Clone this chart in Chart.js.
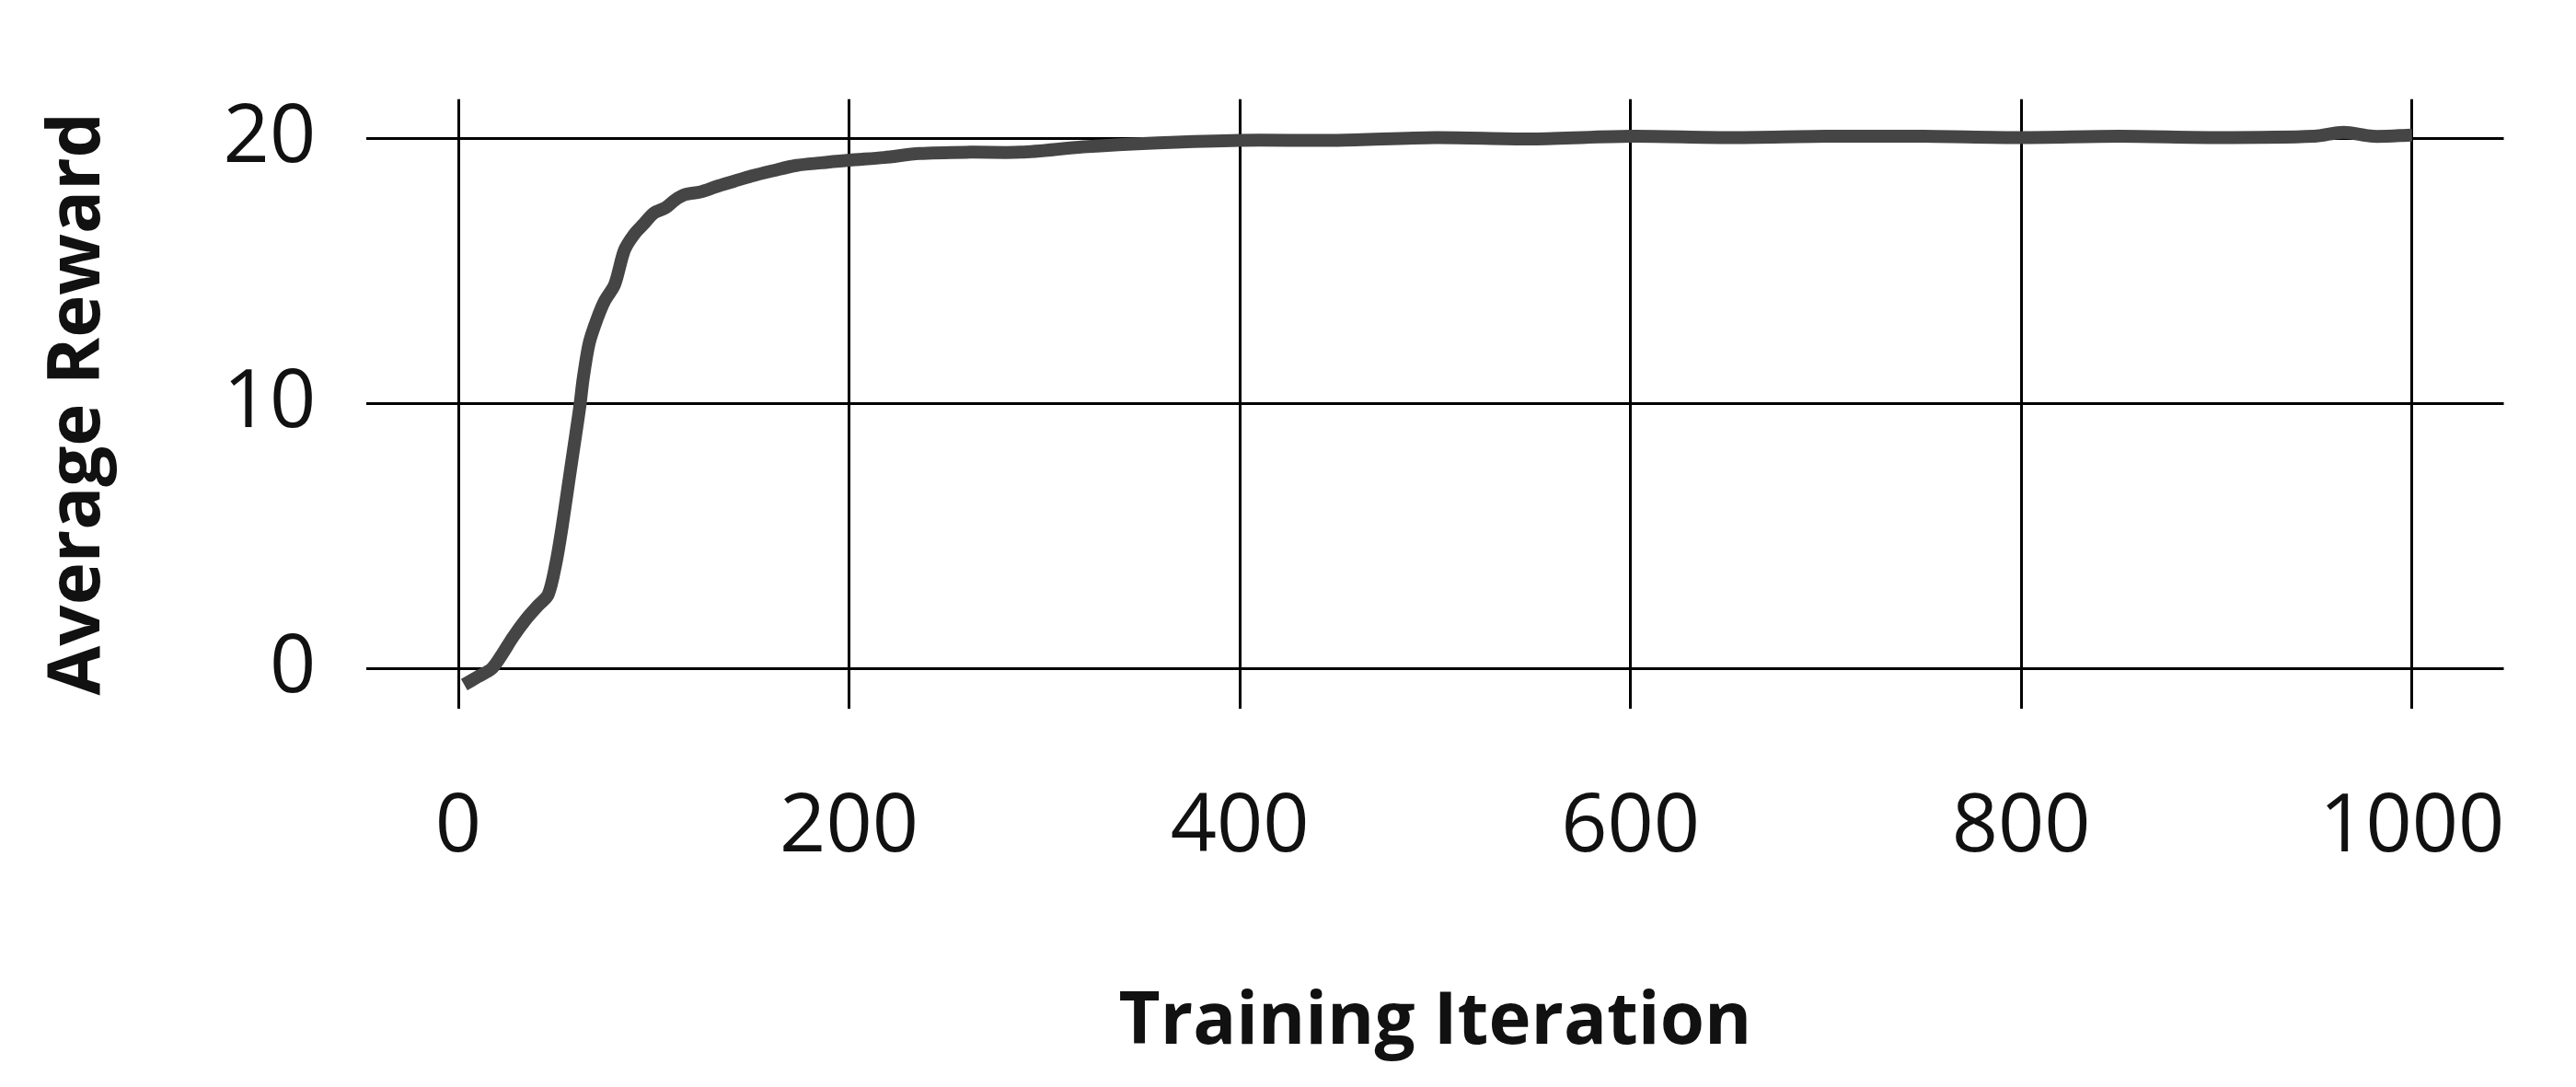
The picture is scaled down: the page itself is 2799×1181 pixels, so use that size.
<!DOCTYPE html>
<html><head><meta charset="utf-8">
<script src="https://cdn.jsdelivr.net/npm/chart.js@4"></script>
<style>html,body{margin:0;padding:0;background:#fff}#w{width:2799px;height:1181px}</style>
</head><body><div id="w"><canvas id="c"></canvas></div>
<script>
const iterations = [3,10,17,22,28,35,41,46,50,53,56,59,62,64,67,71,75,80,85,90,95,100,106,111,116,124,132,141,150,161,173,186,200,218,236,262,288,320,358,400,450,500,550,600,650,700,750,800,850,900,950,965,980,1000];
const rewards   = [-0.6,-0.3,0,0.5,1.2,1.9,2.4,2.8,4.0,5.3,6.8,8.3,9.8,11,12.3,13.2,13.9,14.5,15.8,16.4,16.8,17.2,17.4,17.7,17.9,18.0,18.2,18.4,18.6,18.8,19.0,19.1,19.2,19.3,19.45,19.5,19.5,19.7,19.85,19.95,19.95,20.05,20.0,20.1,20.05,20.1,20.1,20.05,20.1,20.05,20.1,20.25,20.1,20.15];
const xTicks = [0,200,400,600,800,1000];
const yTicks = [0,10,20];
new Chart(document.getElementById('c'), {
  type: 'line',
  data: { datasets: [{ data: iterations.map((x,i)=>({x, y: rewards[i]})), borderColor:'#454545', borderWidth:14, pointRadius:0, tension:0.3 }] },
  options: {
    responsive:true, maintainAspectRatio:false, animation:false,
    layout:{ padding:{ left:35, right:14, top:22, bottom:18 } },
    plugins:{ legend:{display:false}, tooltip:{enabled:false} },
    scales:{
      x:{ type:'linear', min:-47, max:1047,
        afterBuildTicks:a=>{a.ticks=xTicks.map(v=>({value:v}));},
        border:{display:false},
        grid:{ color:'#000', lineWidth:3, drawTicks:false },
        ticks:{ color:'#111', font:{family:'Open Sans', size:88}, padding:77, callback:v=>String(v) },
        title:{ display:true, text:'Training Iteration', color:'#111', font:{family:'Open Sans', size:78, weight:'bold'}, padding:{top:36} } },
      y:{ min:-1.5, max:21.5,
        afterBuildTicks:a=>{a.ticks=yTicks.map(v=>({value:v}));},
        border:{display:false},
        grid:{ color:'#000', lineWidth:3, drawTicks:false },
        ticks:{ color:'#111', font:{family:'Open Sans', size:88}, padding:55, callback:v=>String(v) },
        title:{ display:true, text:'Average Reward', color:'#111', font:{family:'Open Sans', size:78, weight:'bold'}, padding:{bottom:55} } }
    }
  }
});
</script></body></html>
